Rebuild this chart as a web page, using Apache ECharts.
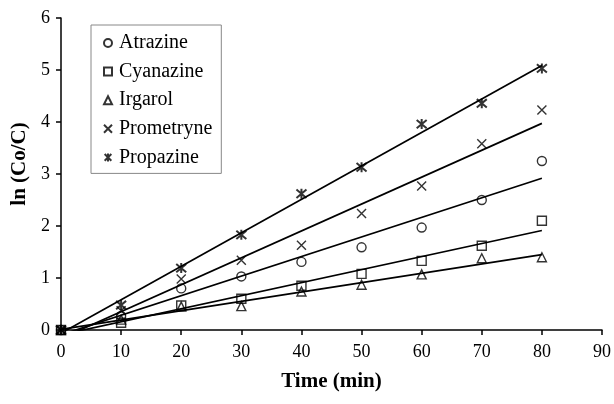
<!DOCTYPE html>
<html>
<head>
<meta charset="utf-8">
<script src="https://cdn.jsdelivr.net/npm/echarts@6/dist/echarts.min.js"></script>
<style>
html,body{margin:0;padding:0;background:#fff;}
#c{width:614px;height:404px;}
</style>
</head>
<body>
<div id="c"></div>
<script>
const time = [0, 10, 20, 30, 40, 50, 60, 70, 80];
const atrazine   = [0, 0.27, 0.80, 1.03, 1.31, 1.59, 1.97, 2.50, 3.25];
const cyanazine  = [0, 0.14, 0.47, 0.60, 0.85, 1.08, 1.33, 1.62, 2.10];
const irgarol    = [0, 0.20, 0.45, 0.46, 0.74, 0.87, 1.07, 1.38, 1.40];
const prometryne = [0, 0.37, 0.98, 1.34, 1.63, 2.24, 2.77, 3.58, 4.23];
const propazine  = [0, 0.48, 1.19, 1.83, 2.62, 3.13, 3.96, 4.36, 5.03];
const names = ['Atrazine', 'Cyanazine', 'Irgarol', 'Prometryne', 'Propazine'];
const xTicks = [0, 10, 20, 30, 40, 50, 60, 70, 80, 90];
const yTicks = [0, 1, 2, 3, 4, 5, 6];

const FONT = '"Liberation Serif", "Times New Roman", serif';
const allData = [atrazine, cyanazine, irgarol, prometryne, propazine];
const symbols = [
  'circle',
  'rect',
  'triangle',
  'path://M0,0L10,10M10,0L0,10',
  'path://M0,0L10,10M10,0L0,10M5,-1L5,11'
];
const sizes = [9, 9, 9, 9, 10];

function fit(xs, ys) {
  const n = xs.length;
  let mx = 0, my = 0;
  for (let i = 0; i < n; i++) { mx += xs[i]; my += ys[i]; }
  mx /= n; my /= n;
  let sxy = 0, sxx = 0;
  for (let i = 0; i < n; i++) { sxy += (xs[i]-mx)*(ys[i]-my); sxx += (xs[i]-mx)*(xs[i]-mx); }
  const b = sxy / sxx, a = my - b * mx;
  const x0 = xs[0], x1 = xs[n-1];
  return [[x0, a + b*x0], [x1, a + b*x1]];
}

const series = [];
allData.forEach((d, i) => {
  series.push({
    name: names[i] + '_fit',
    type: 'line',
    data: fit(time, d),
    showSymbol: false,
    symbol: 'none',
    silent: true,
    lineStyle: { color: '#000', width: 1.7 },
    z: 1
  });
});
allData.forEach((d, i) => {
  series.push({
    name: names[i],
    type: 'scatter',
    data: time.map((t, j) => [t, d[j]]),
    symbol: symbols[i],
    symbolSize: sizes[i],
    itemStyle: { color: 'rgba(0,0,0,0)', borderColor: '#000', borderWidth: i === 4 ? 2 : 1.4 },
    z: 3
  });
});

const chart = echarts.init(document.getElementById('c'));
chart.setOption({
  animation: false,
  backgroundColor: '#fff',
  textStyle: { fontFamily: FONT, color: '#000' },
  grid: { left: 61, right: 11, top: 18, bottom: 74, containLabel: false },
  legend: {
    orient: 'vertical',
    left: 91,
    top: 25,
    data: names,
    padding: [8, 9, 6, 12],
    itemGap: 8.6,
    itemWidth: 8,
    itemHeight: 8,
    borderColor: '#888',
    borderWidth: 1,
    textStyle: { fontFamily: FONT, fontSize: 20, color: '#000', lineHeight: 20, padding: [0, 0, 0, 2] }
  },
  xAxis: {
    type: 'value',
    min: xTicks[0],
    max: xTicks[xTicks.length-1],
    interval: 10,
    name: 'Time (min)',
    nameLocation: 'middle',
    nameGap: 41,
    nameTextStyle: { fontFamily: FONT, fontSize: 21, fontWeight: 'bold', color: '#000' },
    axisLine: { lineStyle: { color: '#000', width: 1.5 } },
    axisTick: { length: 5, lineStyle: { color: '#000', width: 1.5 } },
    axisLabel: { fontFamily: FONT, fontSize: 18, color: '#000', margin: 13 },
    splitLine: { show: false }
  },
  yAxis: {
    type: 'value',
    min: yTicks[0],
    max: yTicks[yTicks.length-1],
    interval: 1,
    name: 'ln (Co/C)',
    nameLocation: 'middle',
    nameGap: 16,
    nameTextStyle: { fontFamily: FONT, fontSize: 21, fontWeight: 'bold', color: '#000', padding: [0, 0, 0, 20] },
    axisLine: { show: true, lineStyle: { color: '#000', width: 1.5 } },
    axisTick: { show: true, length: 5, lineStyle: { color: '#000', width: 1.5 } },
    axisLabel: { fontFamily: FONT, fontSize: 18, color: '#000', margin: 11 },
    splitLine: { show: false }
  },
  series: series
});
</script>
</body>
</html>
